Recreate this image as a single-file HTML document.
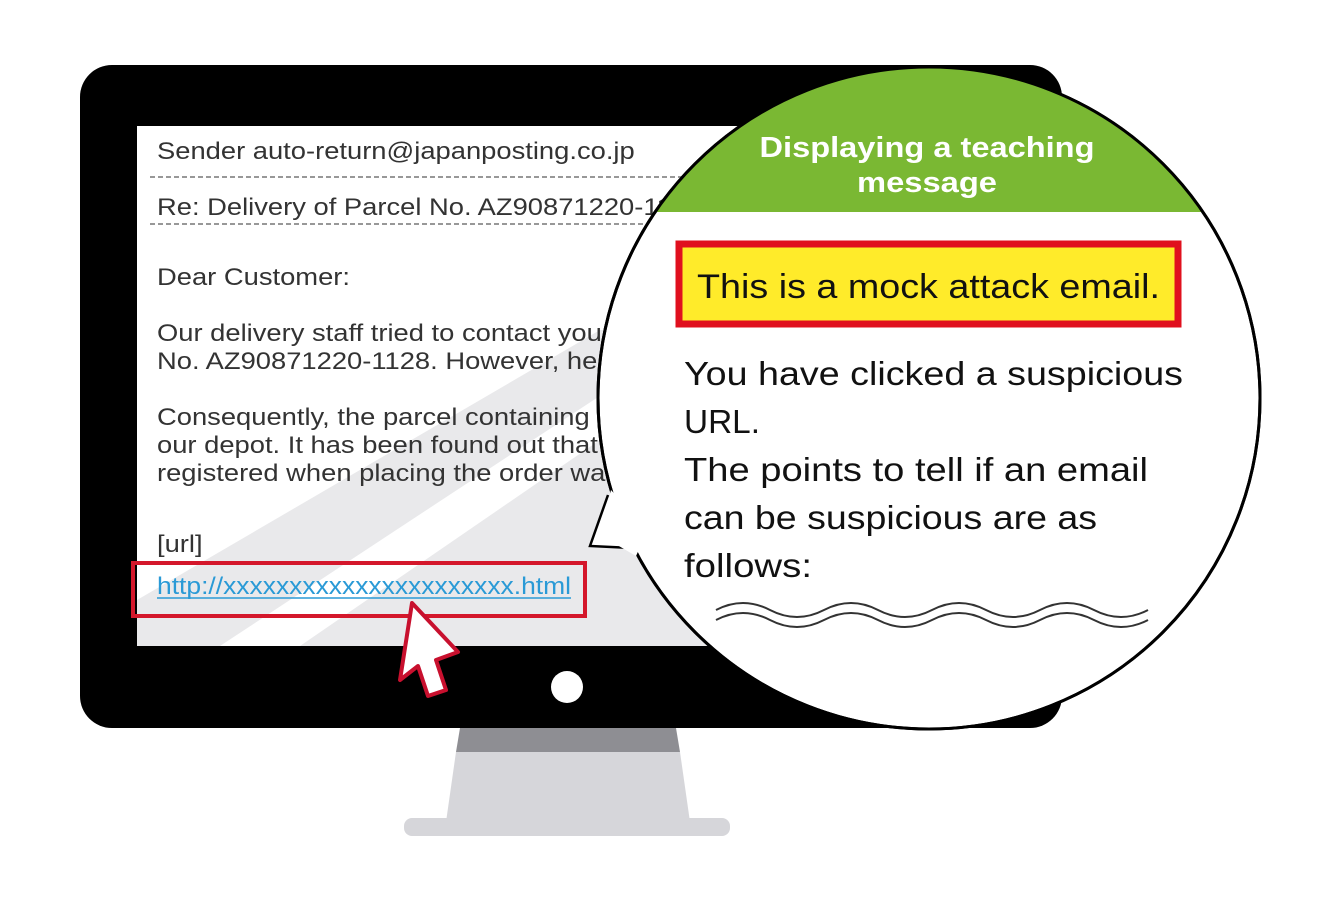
<!DOCTYPE html>
<html><head><meta charset="utf-8"><style>
html,body{margin:0;padding:0;background:#fff;}
svg{display:block;}
</style></head><body>
<svg width="1328" height="901" viewBox="0 0 1328 901" xmlns="http://www.w3.org/2000/svg" font-family="Liberation Sans, sans-serif">
<defs>
<clipPath id="circ"><circle cx="929" cy="398" r="331"/></clipPath>
<clipPath id="scr"><rect x="137" y="126" width="900" height="520"/></clipPath>
</defs>
<polygon points="460,728 676,728 680,752 456,752" fill="#8e8e93"/>
<polygon points="456,752 680,752 690,822 446,822" fill="#d6d6da"/>
<rect x="404" y="818" width="326" height="18" rx="8" fill="#d6d6da"/>
<rect x="80" y="65" width="982" height="663" rx="32" fill="#000"/>
<rect x="137" y="126" width="900" height="520" fill="#fff"/>
<g clip-path="url(#scr)" fill="#e9e9eb">
<polygon points="137,600 600,330 700,330 220,646 137,646"/>
<polygon points="300,646 760,330 1037,330 1037,646"/>
</g>
<circle cx="567" cy="687" r="16" fill="#fff"/>
<line x1="150" y1="177" x2="740" y2="177" stroke="#777" stroke-width="1.5" stroke-dasharray="5,3"/>
<line x1="150" y1="224" x2="740" y2="224" stroke="#777" stroke-width="1.5" stroke-dasharray="5,3"/>
<g fill="#333" font-size="24" transform="translate(157,0) scale(1.14,1)">
<text x="0" y="159">Sender  auto-return@japanposting.co.jp</text>
<text x="0" y="215">Re: Delivery of Parcel No. AZ90871220-1128</text>
<text x="0" y="285">Dear Customer:</text>
<text x="0" y="341">Our delivery staff tried to contact you</text>
<text x="0" y="369">No. AZ90871220-1128. However, he</text>
<text x="0" y="425">Consequently, the parcel containing</text>
<text x="0" y="453">our depot. It has been found out that</text>
<text x="0" y="481">registered when placing the order was</text>
<text x="0" y="552">[url]</text>
</g>
<text x="157" y="594" font-size="24" fill="#2a9ad6" textLength="414" lengthAdjust="spacingAndGlyphs">http://xxxxxxxxxxxxxxxxxxxxxx.html</text>
<line x1="157" y1="598" x2="571" y2="598" stroke="#2a9ad6" stroke-width="1.5"/>
<rect x="133" y="563" width="452" height="53" fill="none" stroke="#d4172b" stroke-width="4"/>
<polygon points="412,603 458,652 436,660 446,690 428,696 418,666 400,680" fill="#fff" stroke="#c8102e" stroke-width="4" stroke-linejoin="round"/>
<circle cx="929" cy="398" r="331" fill="#fff" stroke="#000" stroke-width="3"/>
<g clip-path="url(#circ)">
<rect x="590" y="60" width="680" height="152" fill="#7ab833"/>
</g>
<circle cx="929" cy="398" r="331" fill="none" stroke="#000" stroke-width="3"/>
<polygon points="608,495 590,546 632,548" fill="#fff"/>
<polyline points="608,495 590,546 632,548" fill="none" stroke="#000" stroke-width="2.5"/>
<polygon points="611,490 600,535 636,556 648,530" fill="#fff"/>
<text x="927" y="157" text-anchor="middle" font-size="29" font-weight="bold" fill="#fff" textLength="335" lengthAdjust="spacingAndGlyphs">Displaying a teaching</text>
<text x="927" y="192" text-anchor="middle" font-size="29" font-weight="bold" fill="#fff" textLength="140" lengthAdjust="spacingAndGlyphs">message</text>
<rect x="679" y="244" width="499" height="80" fill="#ffeb2a" stroke="#e0101e" stroke-width="7"/>
<text x="697" y="298" font-size="34" fill="#111" textLength="463" lengthAdjust="spacingAndGlyphs">This is a mock attack email.</text>
<g font-size="33" fill="#111">
<text x="684" y="385" textLength="499" lengthAdjust="spacingAndGlyphs">You have clicked a suspicious</text>
<text x="684" y="433" textLength="76" lengthAdjust="spacingAndGlyphs">URL.</text>
<text x="684" y="481" textLength="464" lengthAdjust="spacingAndGlyphs">The points to tell if an email</text>
<text x="684" y="529" textLength="413" lengthAdjust="spacingAndGlyphs">can be suspicious are as</text>
<text x="684" y="577" textLength="128" lengthAdjust="spacingAndGlyphs">follows:</text>
</g>
<path d="M716,610 q27,-14 54,0 t54,0 t54,0 t54,0 t54,0 t54,0 t54,0 t54,0" fill="none" stroke="#333" stroke-width="2"/>
<path d="M716,620 q27,-14 54,0 t54,0 t54,0 t54,0 t54,0 t54,0 t54,0 t54,0" fill="none" stroke="#333" stroke-width="2"/>
</svg>
</body></html>
